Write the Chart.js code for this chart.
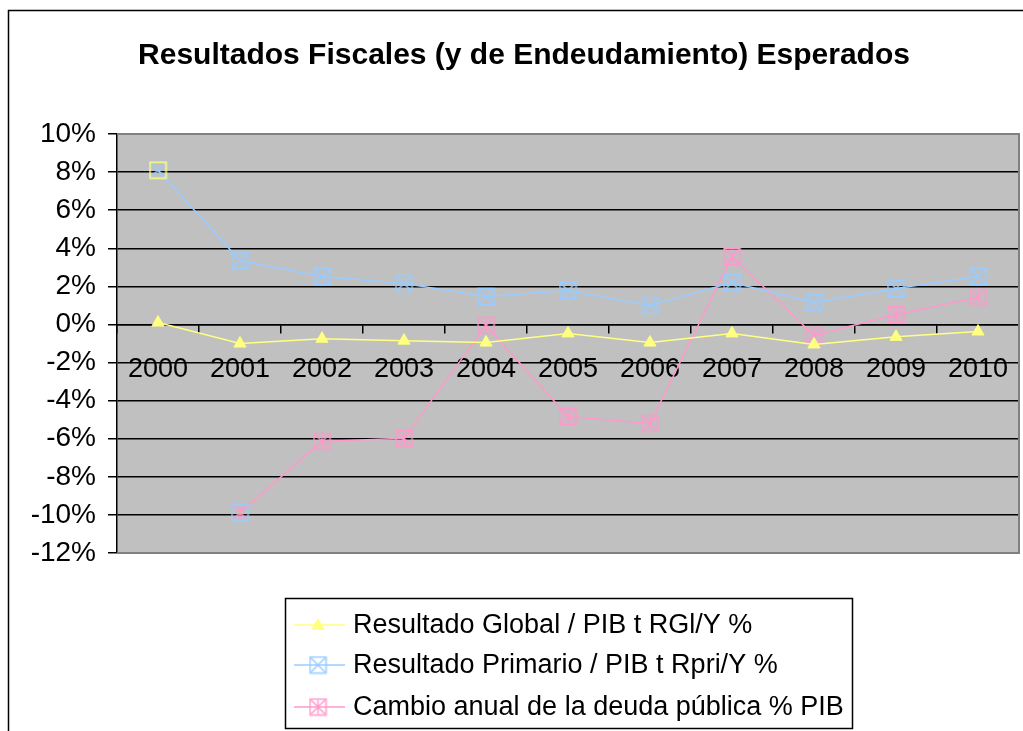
<!DOCTYPE html>
<html>
<head>
<meta charset="utf-8">
<script src="https://cdn.jsdelivr.net/npm/chart.js@4/dist/chart.umd.min.js"></script>
<style>
body { margin: 0; background: #ffffff; }
#wrap { width: 1023px; height: 731px; }
</style>
</head>
<body>
<div id="wrap"><canvas id="chart" width="1023" height="731"></canvas></div>
<script>
let years = ["2000", "2001", "2002", "2003", "2004", "2005", "2006", "2007", "2008", "2009", "2010"]
let globalRes = [0.1, -1.0, -0.75, -0.85, -0.95, -0.47, -0.95, -0.47, -1.05, -0.65, -0.37]
let primarioRes = [8.1, 3.36, 2.52, 2.15, 1.47, 1.78, 1.0, 2.2, 1.15, 1.89, 2.52]
let deudaCambio = [null, -9.87, -6.14, -5.98, -0.05, -4.83, -5.2, 3.57, -0.58, 0.52, 1.42]
let seriesNames = ["Resultado Global / PIB t RGl/Y %", "Resultado Primario / PIB t Rpri/Y %", "Cambio anual de la deuda pública % PIB"]
let yMin = -12
let yMax = 10
let yStep = 2

let yellow = "#FFFF80"
let blue = "#99CCFF"
let pink = "#FF99CC"
let font = "'Liberation Sans', Arial, sans-serif"
let plotRight = 1019

function makeMarker(boxColor, crossColor, star) {
    let c = document.createElement("canvas")
    c.width = 19
    c.height = 19
    let g = c.getContext("2d")
    g.lineWidth = 1.5
    g.strokeStyle = crossColor
    g.beginPath()
    g.moveTo(2.5, 2.5); g.lineTo(16.5, 16.5)
    g.moveTo(16.5, 2.5); g.lineTo(2.5, 16.5)
    if (star) {
        g.moveTo(9.5, 2.5); g.lineTo(9.5, 16.5)
    }
    g.stroke()
    g.strokeStyle = boxColor
    g.strokeRect(1.5, 1.5, 16, 16)
    return c
}

let blueMark = makeMarker(blue, blue, false)
let blueMarkOdd = makeMarker(yellow, blue, false)
let pinkMark = makeMarker(pink, pink, true)
let pinkMarkOdd = makeMarker(blue, pink, true)

let blueStyles = years.map((y, i) => i == 0 ? blueMarkOdd : blueMark)
let pinkStyles = years.map((y, i) => i == 1 ? pinkMarkOdd : pinkMark)

let extras = {
    id: "extras",
    afterLayout(chart) {
        // stretch plot area to the right edge like the original
        let a = chart.chartArea
        a.right = plotRight
        a.width = a.right - a.left
        let x = chart.scales.x
        x.right = plotRight
        x.width = x.right - x.left
        x.configure()
        let y = chart.scales.y
        y.configure()
    },
    beforeDraw(chart) {
        let ctx = chart.ctx
        let a = chart.chartArea
        ctx.save()
        ctx.fillStyle = "#ffffff"
        ctx.fillRect(0, 0, chart.width, chart.height)
        ctx.strokeStyle = "#000000"
        ctx.lineWidth = 1.5
        ctx.strokeRect(8.5, 10.5, 1200, 900)
        ctx.fillStyle = "#C0C0C0"
        ctx.fillRect(a.left, a.top, a.right - a.left, a.bottom - a.top)
        ctx.font = "bold 30px " + font
        ctx.fillStyle = "#000000"
        ctx.textAlign = "center"
        ctx.textBaseline = "middle"
        ctx.fillText("Resultados Fiscales (y de Endeudamiento) Esperados", 524, 56)
        ctx.restore()
    },
    afterDraw(chart) {
        let ctx = chart.ctx
        let a = chart.chartArea
        ctx.save()
        ctx.strokeStyle = "#808080"
        ctx.lineWidth = 2
        ctx.beginPath()
        ctx.moveTo(a.left, a.top)
        ctx.lineTo(a.right, a.top)
        ctx.lineTo(a.right, a.bottom)
        ctx.lineTo(a.left, a.bottom)
        ctx.stroke()

        // legend
        ctx.strokeStyle = "#000000"
        ctx.lineWidth = 1.5
        ctx.fillStyle = "#ffffff"
        ctx.fillRect(285, 598, 567, 130)
        ctx.strokeRect(285.5, 598.5, 567, 130)
        let rows = [625, 665, 707]
        let colors = [yellow, blue, pink]
        ctx.font = "27px " + font
        ctx.textBaseline = "middle"
        ctx.textAlign = "left"
        for (let i = 0; i < 3; i++) {
            let y = rows[i]
            ctx.strokeStyle = colors[i]
            ctx.lineWidth = 1.5
            ctx.beginPath()
            ctx.moveTo(294, y)
            ctx.lineTo(345, y)
            ctx.stroke()
            if (i == 0) {
                ctx.fillStyle = yellow
                ctx.beginPath()
                ctx.moveTo(318, y - 7)
                ctx.lineTo(325, y + 5)
                ctx.lineTo(311, y + 5)
                ctx.closePath()
                ctx.fill()
            } else {
                let m = i == 1 ? blueMark : pinkMark
                ctx.drawImage(m, 318 - 9.5, y - 9.5)
            }
            ctx.fillStyle = "#000000"
            ctx.fillText(seriesNames[i], 353, y + 1)
        }
        ctx.restore()
    }
}

new Chart(document.getElementById("chart"), {
    type: "line",
    data: {
        labels: years,
        datasets: [{
            label: seriesNames[0],
            data: globalRes,
            borderColor: yellow,
            backgroundColor: yellow,
            borderWidth: 1.5,
            pointStyle: "triangle",
            pointRadius: 7,
            pointBorderWidth: 1,
            tension: 0
        }, {
            label: seriesNames[1],
            data: primarioRes,
            borderColor: blue,
            backgroundColor: blue,
            borderWidth: 1.5,
            pointStyle: blueStyles,
            pointRadius: 9,
            tension: 0
        }, {
            label: seriesNames[2],
            data: deudaCambio,
            borderColor: pink,
            backgroundColor: pink,
            borderWidth: 1.5,
            pointStyle: pinkStyles,
            pointRadius: 9,
            tension: 0
        }]
    },
    options: {
        responsive: false,
        animation: false,
        layout: { autoPadding: false, padding: { top: 134, bottom: 178, left: 0, right: 4 } },
        plugins: {
            legend: { display: false },
            title: { display: false },
            tooltip: { enabled: false }
        },
        scales: {
            x: {
                position: { y: 0 },
                offset: true,
                grid: { drawOnChartArea: false, offset: true, tickLength: 8, color: "#000000", lineWidth: 1.5 },
                border: { color: "#000000", width: 1.5 },
                ticks: { color: "#000000", font: { family: font, size: 27 }, padding: 21, maxRotation: 0, autoSkip: false }
            },
            y: {
                min: yMin,
                max: yMax,
                afterFit(scale) { scale.width = 117 },
                grid: { color: "#000000", lineWidth: 1.5, tickLength: 9 },
                border: { color: "#000000", width: 1.5 },
                ticks: {
                    stepSize: yStep,
                    color: "#000000",
                    padding: 12,
                    font: { family: font, size: 28 },
                    callback: (v) => v + "%"
                }
            }
        }
    },
    plugins: [extras]
})
</script>
</body>
</html>
